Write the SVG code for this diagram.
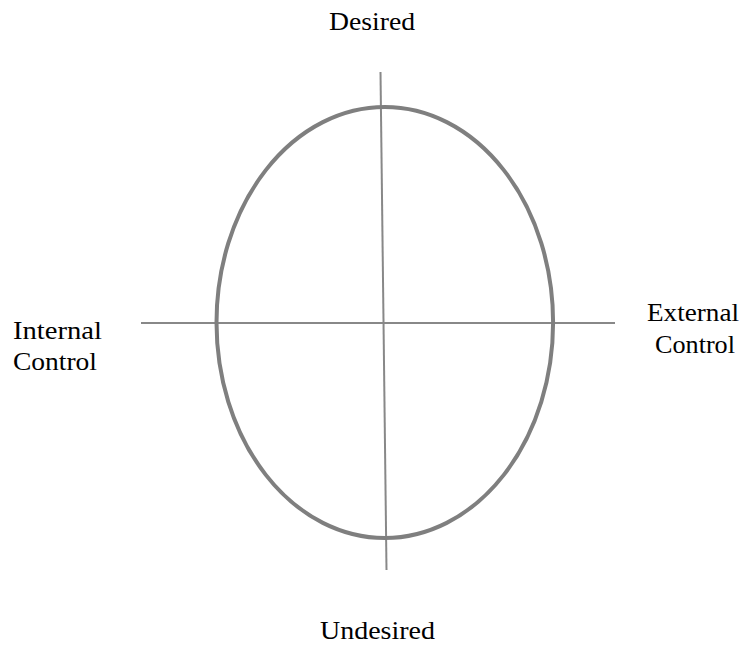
<svg xmlns="http://www.w3.org/2000/svg" width="742" height="645" viewBox="0 0 742 645">
<style>
.lbl{font-family:"Liberation Serif","Times New Roman",serif;font-size:25px;fill:#000}
.axis{stroke:#888;stroke-width:2;fill:none}
</style>
<rect width="742" height="645" fill="#fff"/>
<g id="connectors">
<line class="axis" x1="380.5" y1="72" x2="386.5" y2="570"/>
<line class="axis" x1="141" y1="323" x2="615" y2="323"/>
</g>
<g id="ellipse">
<ellipse cx="384.8" cy="322.5" rx="168.3" ry="215.5" fill="none" stroke="#7f7f7f" stroke-width="4"/>
</g>
<g id="desired"><text class="lbl" x="329" y="30" textLength="86" lengthAdjust="spacingAndGlyphs">Desired</text></g>
<g id="undesired"><text class="lbl" x="320" y="639" textLength="115" lengthAdjust="spacingAndGlyphs">Undesired</text></g>
<g id="internal">
<text class="lbl" x="13" y="339" textLength="89" lengthAdjust="spacingAndGlyphs">Internal</text>
<text class="lbl" x="13" y="370" textLength="84" lengthAdjust="spacingAndGlyphs">Control</text>
</g>
<g id="external">
<text class="lbl" x="647" y="321" textLength="92" lengthAdjust="spacingAndGlyphs">External</text>
<text class="lbl" x="655" y="353" textLength="80" lengthAdjust="spacingAndGlyphs">Control</text>
</g>
</svg>
